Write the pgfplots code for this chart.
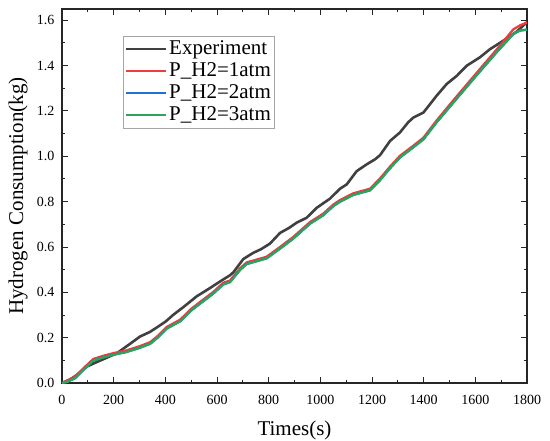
\documentclass[border=0pt]{standalone}
\usepackage{fontspec}
\setmainfont{Liberation Serif}
\usepackage{pgfplots}
\usepackage{pgfplotstable}
\pgfplotsset{compat=1.18}
\definecolor{cexp}{HTML}{404040}
\definecolor{cred}{HTML}{F03C3C}
\definecolor{cblue}{HTML}{1F6FDD}
\definecolor{cgreen}{HTML}{2AA55A}
\pgfplotstableread{
t y
0 0
30 0.015
57 0.035
95 0.072
130 0.09
160 0.105
212 0.131
260 0.17
302 0.205
340 0.225
367 0.245
400 0.27
431 0.301
470 0.335
521 0.382
573 0.419
612 0.448
650 0.475
663 0.488
702 0.547
740 0.574
770 0.59
805 0.615
844 0.662
880 0.685
908 0.707
947 0.729
986 0.773
1037 0.813
1076 0.857
1102 0.876
1141 0.935
1180 0.965
1212 0.987
1231 1.005
1270 1.068
1308 1.105
1340 1.15
1360 1.171
1399 1.193
1450 1.267
1489 1.319
1528 1.355
1567 1.400
1618 1.437
1657 1.473
1708 1.510
1760 1.550
1800 1.592
}\expdata
\pgfplotstableread{
t r b g
0 0 0 0
20 0.010 0.005 0.005
50 0.028 0.021 0.021
83 0.065 0.058 0.058
121 0.106 0.099 0.099
160 0.120 0.113 0.113
200 0.132 0.125 0.125
250 0.144 0.137 0.137
300 0.162 0.155 0.155
341 0.180 0.173 0.173
370 0.207 0.200 0.200
405 0.247 0.240 0.240
457 0.279 0.272 0.272
500 0.327 0.320 0.320
534 0.357 0.350 0.350
586 0.402 0.395 0.395
624 0.442 0.435 0.435
650 0.452 0.445 0.445
690 0.507 0.500 0.500
715 0.532 0.525 0.525
792 0.557 0.550 0.550
844 0.600 0.593 0.593
895 0.644 0.637 0.637
960 0.710 0.703 0.703
1011 0.747 0.740 0.740
1050 0.787 0.780 0.780
1076 0.807 0.800 0.800
1128 0.837 0.830 0.830
1192 0.857 0.850 0.850
1231 0.902 0.895 0.895
1270 0.955 0.948 0.948
1308 1.002 0.995 0.995
1360 1.047 1.040 1.040
1399 1.082 1.075 1.075
1450 1.158 1.150 1.150
1528 1.265 1.255 1.255
1605 1.368 1.358 1.358
1683 1.472 1.460 1.460
1747 1.560 1.540 1.540
1773 1.578 1.555 1.555
1800 1.590 1.559 1.559
}\simdata
\begin{document}
\begin{tikzpicture}
\path[use as bounding box] (-62bp,-58bp) rectangle (488bp,383bp);
\begin{axis}[
  scale only axis,
  width=465bp, height=374bp,
  xmin=0, xmax=1800, ymin=0, ymax=1.65,
  xtick={0,200,...,1800},
  ytick={0,0.2,...,1.6},
  minor x tick num=1,
  minor y tick num=1,
  tick align=inside,
  major tick length=6bp,
  minor tick length=3.5bp,
  axis line style={line width=1.2pt, black!85},
  every tick/.style={line width=1pt, black!85},
  /pgf/number format/assume math mode=true,
  scaled y ticks=false,
  yticklabel style={/pgf/number format/fixed,/pgf/number format/precision=1,/pgf/number format/fixed zerofill, xshift=-4bp},
  xticklabel style={/pgf/number format/1000 sep={}, yshift=-9bp},
  tick label style={font=\fontsize{14bp}{16bp}\selectfont},
  label style={font=\fontsize{21bp}{23bp}\selectfont},
  xlabel={Times(s)},
  ylabel={Hydrogen Consumption(kg)},
  xlabel style={at={(rel axis cs:0.5,0)}, anchor=center, yshift=-47bp},
  ylabel style={at={(rel axis cs:0,0.5)}, anchor=center, yshift=44bp},
  legend cell align=left,
  legend style={at={(rel axis cs:0.131,0.928)}, anchor=north west,
    draw=gray!70, line width=0.6pt,
    font=\fontsize{21bp}{22bp}\selectfont,
    row sep=0bp, inner sep=2bp,
    nodes={inner sep=1.5bp, text depth=4.5bp, text height=14.5bp}},
  legend image code/.code={\draw[#1, line width=2.5pt] (0bp,0bp) -- (40bp,0bp);},
  every axis plot/.append style={line width=2.3pt},
]
\addplot[cexp, line width=2.6pt] table[x=t,y=y] {\expdata};
\addlegendentry{Experiment}
\addplot[cred] table[x=t,y=r] {\simdata};
\addlegendentry{P\_H2=1atm}
\addplot[cblue] table[x=t,y=b] {\simdata};
\addlegendentry{P\_H2=2atm}
\addplot[cgreen] table[x=t,y=g] {\simdata};
\addlegendentry{P\_H2=3atm}
\end{axis}
\end{tikzpicture}
\end{document}
